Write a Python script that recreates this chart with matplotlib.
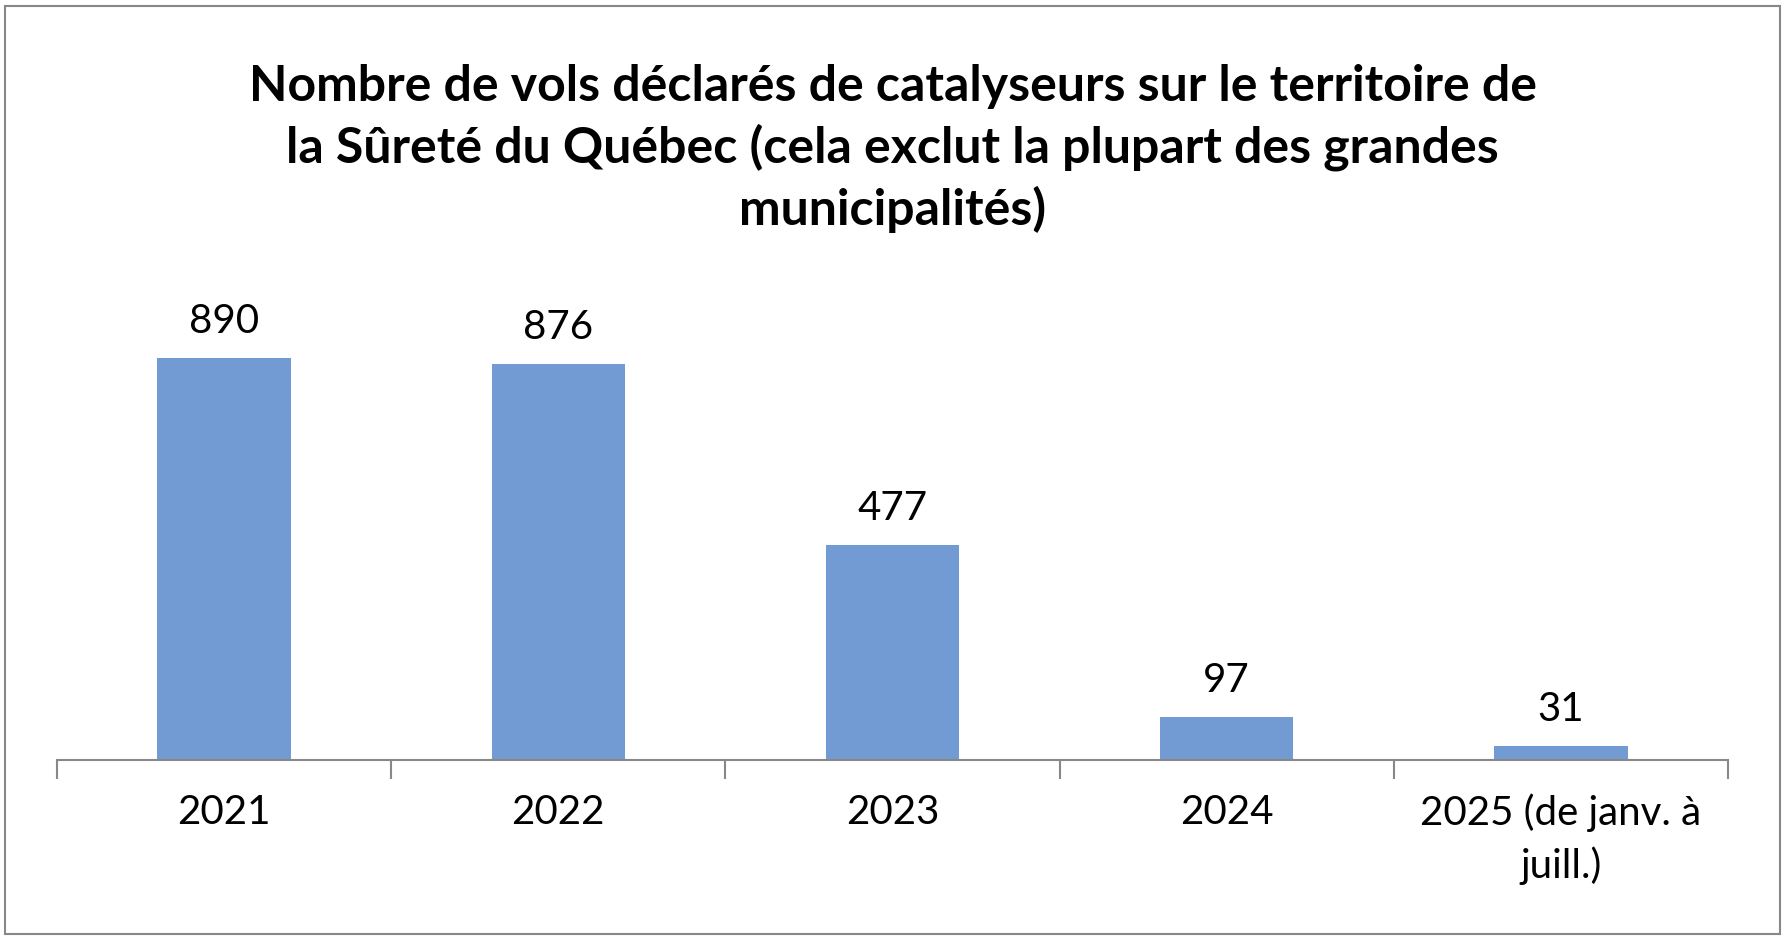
import matplotlib
matplotlib.use("Agg")
import matplotlib.pyplot as plt
from matplotlib.patches import Rectangle

categories = ["2021", "2022", "2023", "2024", "2025 (de janv. à\njuill.)"]
values = [890, 876, 477, 97, 31]
title = ("Nombre de vols déclarés de catalyseurs sur le territoire de\n"
         "la Sûreté du Québec (cela exclut la plupart des grandes\n"
         "municipalités)")

plt.rcParams["font.family"] = "Lato"
fig = plt.figure(figsize=(17.85, 9.4), dpi=100)
ax = fig.add_axes([0.032, 0.191, 0.936, 0.481])
x = list(range(len(categories)))
bars = ax.bar(x, values, width=0.4, color="#729bd4")
for xi, v in zip(x, values):
    ax.text(xi, v + 40, str(v), ha="center", va="bottom", fontsize=29)
ax.set_xlim(-0.5, len(categories) - 0.5)
ax.set_ylim(0, 1000)
ax.set_yticks([])
for s in ["top", "right", "left"]:
    ax.spines[s].set_visible(False)
ax.spines["bottom"].set_color("#888888")
ax.spines["bottom"].set_linewidth(1.5)
ax.set_xticks([i - 0.5 for i in range(len(categories) + 1)], minor=False)
ax.set_xticklabels([])
ax.tick_params(axis="x", length=14, color="#888888", width=1.5)
ax.set_xticks(x, minor=True)
ax.set_xticklabels(categories, minor=True, fontsize=29, linespacing=1.45, va="top")
ax.tick_params(axis="x", which="minor", length=0, pad=24)
fig.text(0.5, 0.842, title, ha="center", va="center", fontsize=36,
         fontweight="bold", linespacing=1.38)
fig.patches.append(Rectangle((0.003, 0.006), 0.994, 0.988, transform=fig.transFigure,
                             fill=False, edgecolor="#888888", linewidth=1.5))
fig.savefig("out.png", dpi=100)
